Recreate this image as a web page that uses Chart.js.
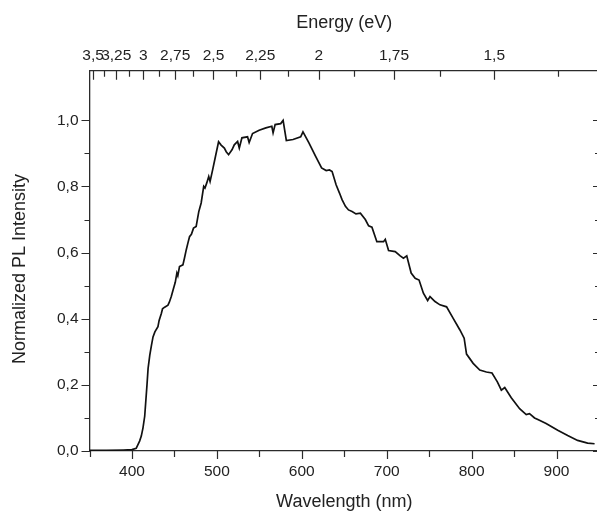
<!DOCTYPE html>
<html>
<head>
<meta charset="utf-8">
<script src="https://cdn.jsdelivr.net/npm/chart.js@4.4.1/dist/chart.umd.min.js"></script>
<style>
html, body { margin: 0; padding: 0; background: #fff; overflow: hidden; }
</style>
</head>
<body>
<canvas id="chart" width="610" height="515"></canvas>
<script>
// PL spectrum
const wavelength = [
    350, 370, 390, 400, 405, 409, 411, 413, 415, 417.7, 419, 421, 423, 424.8, 427, 430.6, 432, 434.6, 436, 438.5,
    442.4, 444, 446.3, 449, 451, 452.9, 454, 456, 460, 462, 463.9, 466, 467.8, 470, 472.5, 475.6, 478.7, 481.5, 484.5, 486,
    488, 490.4, 492, 495, 498.2, 502, 505, 508.8, 511, 513.8, 517.8, 520.5, 524.4, 526.4, 529.5, 536.1, 538, 542, 549.8, 557.7,
    564.7, 566.2, 568.6, 575.2, 578, 581.8, 589.7, 598.7, 601.4, 608.4, 616.3, 623.3, 628.7, 632.6, 635.7, 640.4, 644.4, 647.4, 651.4, 655,
    659.2, 663.8, 669, 674.8, 678.7, 682.6, 688.4, 696.3, 698.3, 702.2, 710, 715.9, 719.7, 723.6, 728.8, 733.5, 738.1, 743.2, 748.2, 751,
    756.9, 762.7, 770.5, 778.3, 786.2, 791.2, 794, 801.8, 809.6, 817.4, 824, 830.3, 835, 839, 846.7, 856.5, 864.3, 868.2, 874.1, 878,
    887.7, 901.4, 913.1, 924.8, 936.6, 944.8
];
const intensity = [
    0.002, 0.002, 0.003, 0.004, 0.008, 0.03, 0.045, 0.07, 0.105, 0.2, 0.25, 0.29, 0.32, 0.345, 0.36, 0.376, 0.395, 0.416, 0.43, 0.435,
    0.441, 0.45, 0.467, 0.492, 0.51, 0.538, 0.53, 0.558, 0.563, 0.585, 0.608, 0.63, 0.648, 0.655, 0.674, 0.679, 0.724, 0.75, 0.8, 0.795,
    0.81, 0.83, 0.815, 0.85, 0.889, 0.935, 0.925, 0.916, 0.905, 0.896, 0.911, 0.926, 0.936, 0.916, 0.947, 0.95, 0.933, 0.96, 0.97, 0.977,
    0.982, 0.962, 0.987, 0.99, 1.0, 0.939, 0.942, 0.95, 0.965, 0.932, 0.891, 0.856, 0.848, 0.85, 0.845, 0.805, 0.78, 0.76, 0.74, 0.729,
    0.724, 0.717, 0.719, 0.7, 0.681, 0.677, 0.633, 0.633, 0.64, 0.606, 0.603, 0.59, 0.583, 0.59, 0.538, 0.522, 0.517, 0.477, 0.455, 0.467,
    0.452, 0.442, 0.436, 0.401, 0.366, 0.341, 0.293, 0.265, 0.245, 0.239, 0.236, 0.209, 0.184, 0.192, 0.161, 0.128, 0.11, 0.113, 0.1, 0.095,
    0.083, 0.063, 0.047, 0.032, 0.024, 0.022
];

// top axis: photon energy, ticks placed at lambda = 1240 / E
const energyTicks = [3.5, 3.375, 3.25, 3.125, 3, 2.875, 2.75, 2.625, 2.5, 2.375, 2.25, 2.125, 2, 1.875, 1.75, 1.625, 1.5, 1.375];
const energyLabels = [3.5, 3.25, 3, 2.75, 2.5, 2.25, 2, 1.75, 1.5];

const axisColor = "#2b2b2b";
const textColor = "#222";
const fontFamily = "'Liberation Sans', Arial, sans-serif";
const tickFont = { family: fontFamily, size: 15.5 };
const titleFont = { family: fontFamily, size: 18 };

const comma = v => String(v).replace(".", ",");

// Origin-style tick marks: out on left/bottom, in on top/right; plus the y title
const tickMarks = {
    id: "tickMarks",
    afterDraw(chart) {
        const ctx = chart.ctx;
        const area = chart.chartArea;
        const x = chart.scales.x, y = chart.scales.y, top = chart.scales.xTop;
        ctx.save();
        ctx.strokeStyle = axisColor;
        ctx.lineWidth = 1.2;
        ctx.beginPath();
        x.ticks.forEach(t => {
            const px = Math.round(x.getPixelForValue(t.value)) + 0.5;
            const len = t.value % 100 === 0 ? 8 : 6;
            ctx.moveTo(px, area.bottom);
            ctx.lineTo(px, area.bottom + len);
        });
        y.ticks.forEach(t => {
            const py = Math.round(y.getPixelForValue(t.value)) + 0.5;
            const major = Math.round(t.value * 10) % 2 === 0;
            ctx.moveTo(area.left, py);
            ctx.lineTo(area.left - (major ? 8 : 5), py);
            ctx.moveTo(area.right, py);
            ctx.lineTo(area.right - (major ? 6 : 4), py);
        });
        top.ticks.forEach((t, i) => {
            const px = Math.round(top.getPixelForValue(t.value)) + 0.5;
            const len = energyLabels.includes(energyTicks[i]) ? 9 : 6;
            ctx.moveTo(px, area.top);
            ctx.lineTo(px, area.top + len);
        });
        ctx.moveTo(area.right, area.top);
        ctx.lineTo(area.right, area.bottom);
        ctx.stroke();

        ctx.fillStyle = textColor;
        ctx.font = "18px " + fontFamily;
        ctx.textAlign = "center";
        ctx.textBaseline = "middle";
        ctx.translate(20, 269);
        ctx.rotate(-Math.PI / 2);
        ctx.fillText("Normalized PL Intensity", 0, 0);
        ctx.restore();
    }
};

const ctx = document.getElementById("chart").getContext("2d");
new Chart(ctx, {
    type: "line",
    data: {
        datasets: [{
            data: wavelength.map((w, i) => ({ x: w, y: intensity[i] })),
            borderColor: "#111",
            borderWidth: 1.7,
            pointRadius: 0,
            tension: 0,
            fill: false
        }]
    },
    options: {
        responsive: false,
        animation: false,
        layout: { padding: { left: 0, right: 7.5, top: 0, bottom: 0 } },
        plugins: { legend: { display: false }, tooltip: { enabled: false } },
        scales: {
            x: {
                type: "linear",
                position: "bottom",
                min: 350,
                max: 950,
                afterFit: s => { s.height = 64; },
                grid: { display: false, drawTicks: false },
                border: { display: true, color: axisColor, width: 1.3 },
                ticks: {
                    stepSize: 50,
                    autoSkip: false,
                    maxRotation: 0,
                    padding: 11,
                    color: textColor,
                    font: tickFont,
                    callback: v => (v % 100 === 0 && v >= 400 && v <= 900) ? String(v) : ""
                },
                title: { display: true, text: "Wavelength (nm)", color: textColor, font: titleFont, padding: { top: 0, bottom: 2 } }
            },
            xTop: {
                type: "linear",
                position: "top",
                min: 350,
                max: 950,
                afterFit: s => { s.height = 70.7; },
                afterBuildTicks: s => { s.ticks = energyTicks.map(e => ({ value: 1240 / e })); },
                grid: { display: false, drawTicks: false },
                border: { display: true, color: axisColor, width: 1.3 },
                ticks: {
                    autoSkip: false,
                    maxRotation: 0,
                    padding: 6,
                    color: textColor,
                    font: tickFont,
                    callback: (v, i) => energyLabels.includes(energyTicks[i]) ? comma(energyTicks[i]) : ""
                },
                title: { display: true, text: "Energy (eV)", color: textColor, font: titleFont, padding: { top: 12, bottom: 0 } }
            },
            y: {
                type: "linear",
                position: "left",
                min: 0,
                max: 1.15,
                afterFit: s => { s.width = 89.5; },
                afterBuildTicks: s => {
                    s.ticks = s.ticks.filter(t => Math.abs(t.value * 10 - Math.round(t.value * 10)) < 1e-6);
                },
                grid: { display: false, drawTicks: false },
                border: { display: true, color: axisColor, width: 1.3 },
                ticks: {
                    stepSize: 0.1,
                    autoSkip: false,
                    padding: 11,
                    color: textColor,
                    font: tickFont,
                    callback: v => Math.round(v * 10) % 2 === 0 ? comma(v.toFixed(1)) : ""
                },
                title: { display: false }
            }
        }
    },
    plugins: [tickMarks]
});
</script>
</body>
</html>
